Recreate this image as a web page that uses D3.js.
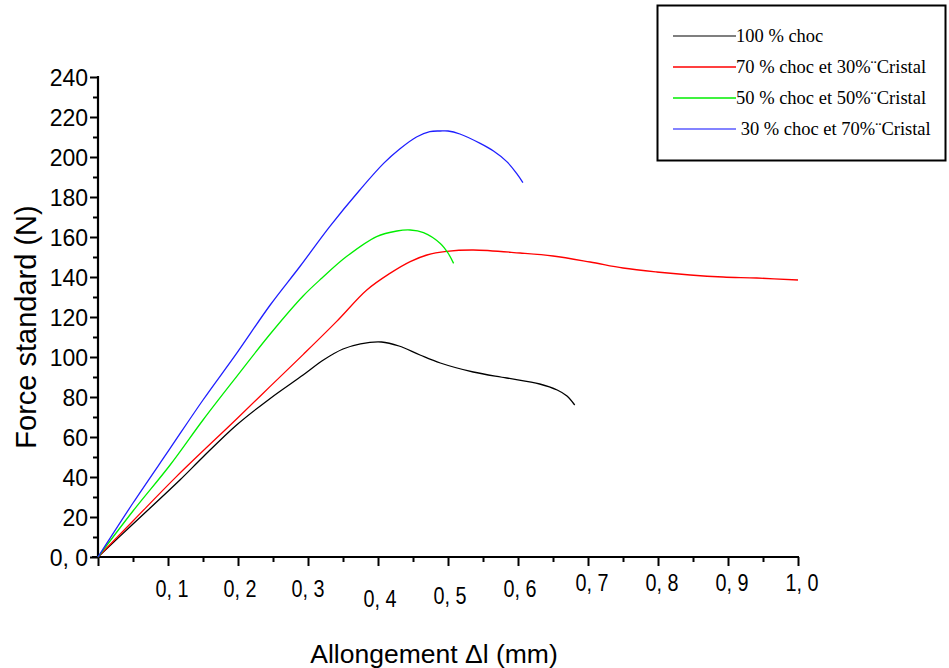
<!DOCTYPE html>
<html>
<head>
<meta charset="utf-8">
<script src="https://cdn.jsdelivr.net/npm/d3@7"></script>
<style>
  body { margin: 0; background: #fff; }
  #graph_plot text { fill: #000; }
</style>
</head>
<body>
<div id="graph_plot"></div>
<script>
// Force / allongement readings, [allongement (mm), force (N)]
const choc100 = [[0,0],[0.05,16.5],[0.117,38.5],[0.15,50],[0.198,66],[0.246,79.3],[0.293,91],[0.322,98.5],[0.35,104],[0.375,106.6],[0.405,107.5],[0.43,105.5],[0.46,101],[0.489,97],[0.536,92.5],[0.584,89.5],[0.631,86.5],[0.656,83.5],[0.67,80.5],[0.681,76]];
const choc70 = [[0,0],[0.05,18],[0.112,40.2],[0.198,69],[0.246,85.3],[0.293,101.2],[0.341,117.8],[0.384,133.5],[0.417,141.8],[0.446,147.7],[0.47,151],[0.498,152.8],[0.536,153.5],[0.603,152],[0.65,150.5],[0.703,147.5],[0.75,144.5],[0.798,142.5],[0.846,141],[0.893,140],[0.941,139.5],[1.0,138.5]];
const choc50 = [[0,0],[0.05,23],[0.103,46],[0.15,68.5],[0.198,90.2],[0.246,111.5],[0.293,130.5],[0.32,139.5],[0.355,150.2],[0.398,160.2],[0.427,163],[0.446,163.5],[0.465,162.2],[0.489,156.8],[0.5,152],[0.508,146.8]];
const choc30 = [[0,0],[0.05,27],[0.103,54.3],[0.15,78.5],[0.198,101.8],[0.246,126],[0.289,145.5],[0.331,165.2],[0.374,183.5],[0.408,196.8],[0.431,204],[0.455,210],[0.474,212.7],[0.489,213],[0.5,213],[0.517,211.5],[0.546,206.8],[0.565,203],[0.584,197.7],[0.598,191.8],[0.607,187.2]];

const seriesNames = ["100 % choc", "70 % choc et 30%\u00A8Cristal", "50 % choc et 50%\u00A8Cristal", " 30 % choc et 70%\u00A8Cristal"];
const seriesColors = ["#000000", "#ff0000", "#00ee00", "#1f1fff"];
const legendColors = ["#555555", "#ff0000", "#00ee00", "#5a5aff"];

const xTickValues = [0.1, 0.2, 0.3, 0.4, 0.5, 0.6, 0.7, 0.8, 0.9, 1.0];
const xTickLabels = ["0, 1", "0, 2", "0, 3", "0, 4", "0, 5", "0, 6", "0, 7", "0, 8", "0, 9", "1, 0"];
const yTickValues = [0, 20, 40, 60, 80, 100, 120, 140, 160, 180, 200, 220, 240];

// layout
const labelNudge = [[4,0],[2,0],[0,0],[2,10],[2,7],[2,0],[4,-6],[4,-6],[4,-6],[4,-6]];
const legendRows = [36, 67, 98, 129];
const margin = { top: 77, right: 151, bottom: 111, left: 98 },
    width = 949 - margin.left - margin.right,
    height = 668 - margin.top - margin.bottom;

const root = d3.select("#graph_plot").append("svg")
    .attr("width", 949)
    .attr("height", 668)
    .style("font-family", "'Liberation Sans', Arial, sans-serif");

const svg = root.append("g")
    .attr("transform", `translate(${margin.left},${margin.top})`);

const x = d3.scaleLinear().domain([0, 1.0]).range([0, width]);
const y = d3.scaleLinear().domain([0, 240]).range([height, 0]);

// minor ticks
svg.append("g")
    .attr("transform", `translate(0,${height})`)
    .call(d3.axisBottom(x).tickValues(d3.range(0.05, 1.0, 0.1)).tickSize(5).tickFormat(""))
    .call(g => g.select(".domain").remove())
    .call(g => g.selectAll("line").attr("stroke-width", 2));
svg.append("g")
    .call(d3.axisLeft(y).tickValues(d3.range(10, 240, 20)).tickSize(5).tickFormat(""))
    .call(g => g.select(".domain").remove())
    .call(g => g.selectAll("line").attr("stroke-width", 2));

// major x axis
const xAxis = svg.append("g")
    .attr("transform", `translate(0,${height})`)
    .call(d3.axisBottom(x).tickValues([0].concat(xTickValues)).tickSize(9).tickSizeOuter(0)
        .tickFormat(""));
xAxis.select(".domain").attr("stroke-width", 2.2).attr("d", `M-6,0H${width + 1}`);
xAxis.selectAll("line").attr("stroke-width", 2);

xTickValues.forEach((v, i) => {
    svg.append("text")
        .attr("transform", `translate(${x(v) + labelNudge[i][0]},${height + 40 + labelNudge[i][1]}) scale(0.86,1)`)
        .attr("text-anchor", "middle")
        .style("font-size", "23px")
        .text(xTickLabels[i]);
});

// major y axis
const yAxis = svg.append("g")
    .call(d3.axisLeft(y).tickValues(yTickValues).tickSize(8).tickSizeOuter(0)
        .tickFormat(d => d === 0 ? "0, 0" : d));
yAxis.select(".domain").attr("stroke-width", 2.2).attr("d", `M0,${height + 1}V-1`);
yAxis.selectAll("line").attr("stroke-width", 2);
yAxis.selectAll("text").style("font-size", "23px").attr("x", -10).attr("dy", "0.36em");

// curves
const line = d3.line()
    .x(d => x(d[0]))
    .y(d => y(d[1]))
    .curve(d3.curveCatmullRom.alpha(0.5));

[choc100, choc70, choc50, choc30].forEach((data, i) => {
    svg.append("path")
        .datum(data)
        .attr("fill", "none")
        .attr("stroke", seriesColors[i])
        .attr("stroke-width", 1.3)
        .attr("d", line);
});

// axis titles
root.append("text")
    .attr("transform", `translate(36,327) rotate(-90)`)
    .attr("text-anchor", "middle")
    .style("font-size", "29px")
    .text("Force standard (N)");

root.append("text")
    .attr("x", 434)
    .attr("y", 663)
    .attr("text-anchor", "middle")
    .style("font-size", "26.5px")
    .text("Allongement \u0394l (mm)");

// legend
const legend = root.append("g");
legend.append("rect")
    .attr("x", 657.5).attr("y", 5.5)
    .attr("width", 288).attr("height", 155)
    .attr("fill", "none").attr("stroke", "#000").attr("stroke-width", 2);

seriesNames.forEach((name, i) => {
    const ly = legendRows[i];
    legend.append("line")
        .attr("x1", 673).attr("x2", 736)
        .attr("y1", ly).attr("y2", ly)
        .attr("stroke", legendColors[i]).attr("stroke-width", 1.3);
    legend.append("text")
        .attr("x", 736).attr("y", ly + 6)
        .attr("xml:space", "preserve")
        .style("white-space", "pre")
        .style("font-family", "'Liberation Serif', 'Times New Roman', serif")
        .style("font-size", "18.5px")
        .text(name);
});
</script>
</body>
</html>
